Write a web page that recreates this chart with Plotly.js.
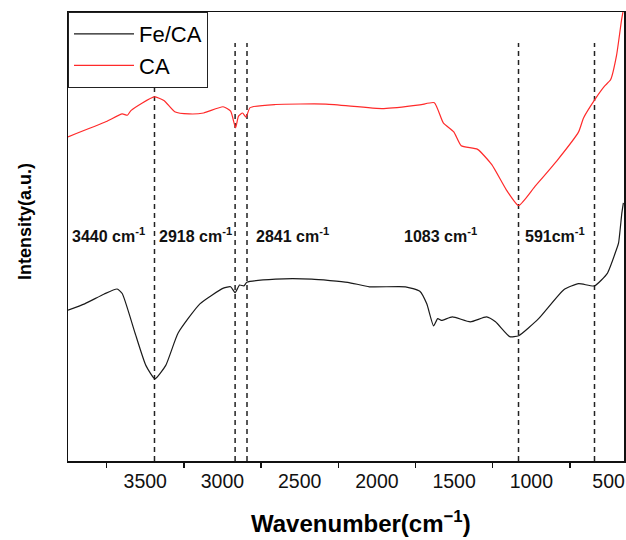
<!DOCTYPE html>
<html>
<head>
<meta charset="utf-8">
<script src="https://cdn.plot.ly/plotly-3.0.1.min.js"></script>
<style>
html,body{margin:0;padding:0;background:#fff;}
#chart{width:626px;height:540px;}
</style>
</head>
<body>
<div id="chart"></div>
<script>
// Fe/CA spectrum (black)
const feWavenumber = [4000,3892,3765,3682,3649,3566,3496,3437,3367,3287,3146,2994,2947,2918,2889,2861,2842,2656,2422,2189,2048,1815,1722,1677,1633,1606,1582,1512,1395,1290,1232,1140,1082,953,788,694,591,508,450,435,414,404];
const feIntensity  = [33.6,35.0,37.2,38.3,37.3,28.5,21.3,18.3,21.3,28.5,35.0,38.5,38.8,37.5,39.2,39.0,39.8,40.5,40.5,39.8,38.8,38.8,37.8,35.0,30.1,31.7,31.3,32.1,31.0,32.1,31.0,27.7,27.9,31.7,38.2,39.5,39.0,41.8,47.0,48.6,55.2,57.5];

// CA spectrum (red)
const caWavenumber = [4000,3752,3649,3616,3591,3442,3379,3309,3216,3122,2996,2947,2915,2896,2870,2847,2821,2656,2330,1955,1722,1628,1570,1502,1454,1348,1256,1162,1082,975,836,694,662,587,526,487,448,416,404];
const caIntensity  = [72.2,75.6,77.3,77.0,78.1,81.1,80.3,77.8,77.3,77.5,78.9,77.9,74.2,76.8,77.5,76.6,78.7,79.4,79.5,78.5,79.3,79.8,75.3,73.3,70.2,69.4,66.0,60.4,56.9,61.2,66.8,73.3,76.4,80.6,83.5,84.9,90.4,98.2,100.5];

// Marked bands
const peaks = [3440, 2918, 2841, 1083, 591];
const peakLabels = ['3440 cm<sup>-1</sup>', '2918 cm<sup>-1</sup>', '2841 cm<sup>-1</sup>', '1083 cm<sup>-1</sup>', '591cm<sup>-1</sup>'];
const labelStart = [3986, 3426, 2795, 1839, 1057];

const xTickVals = [3500, 3000, 2500, 2000, 1500, 1000, 500];
const xTickText = ['3500', '3000', '2500', '2000', '1500', '1000', '500'];

const FONT = 'Liberation Sans, Arial, sans-serif';

const traces = [
  {x: feWavenumber, y: feIntensity, type: 'scatter', mode: 'lines', name: 'Fe/CA',
   line: {color: '#1a1a1a', width: 1.2, shape: 'spline', smoothing: 0.5}},
  {x: caWavenumber, y: caIntensity, type: 'scatter', mode: 'lines', name: 'CA',
   line: {color: '#ff2a2a', width: 1.2, shape: 'spline', smoothing: 0.5}}
];

const shapes = peaks.map(p => ({
  type: 'line', xref: 'x', yref: 'paper', x0: p, x1: p, y0: 0, y1: 0.931,
  line: {color: '#222', width: 1.5, dash: '5px,4px'}, layer: 'below'
}));

const annotations = peaks.map((p, i) => ({
  x: labelStart[i], y: 0.503, xref: 'x', yref: 'paper',
  xanchor: 'left', yanchor: 'middle', showarrow: false,
  text: '<b>' + peakLabels[i] + '</b>',
  font: {family: FONT, size: 16, color: '#111'}
}));

const L = 68, R = 2, T = 12, B = 79, W = 626, H = 540;
const pw = W - L - R, ph = H - T - B;

annotations.push({
  x: (361 - L) / pw, y: (H - B - 522) / ph, xref: 'paper', yref: 'paper',
  xanchor: 'center', yanchor: 'middle', showarrow: false,
  text: '<b>Wavenumber(cm<sup>\u22121</sup>)</b>',
  font: {family: FONT, size: 24, color: '#000'}
});
annotations.push({
  x: (25 - L) / pw, y: (H - B - 222) / ph, xref: 'paper', yref: 'paper',
  xanchor: 'center', yanchor: 'middle', showarrow: false, textangle: -90,
  text: '<b>Intensity(a.u.)</b>',
  font: {family: FONT, size: 18, color: '#000'}
});

const layout = {
  width: W, height: H,
  margin: {l: L, r: R, t: T, b: B, pad: 0},
  paper_bgcolor: '#fff', plot_bgcolor: '#fff',
  showlegend: true,
  legend: {
    x: 0, y: 1, xanchor: 'left', yanchor: 'top',
    bgcolor: '#fff', bordercolor: '#222', borderwidth: 1,
    font: {family: FONT, size: 22, color: '#000'},
    itemwidth: 60, tracegroupgap: 0
  },
  xaxis: {
    range: [4000, 400], autorange: false,
    showgrid: false, zeroline: false,
    showline: true, linecolor: '#111', linewidth: 1.5, mirror: true,
    tickmode: 'array', tickvals: xTickVals, ticktext: xTickText,
    ticks: '', ticklabelstandoff: 2,
    tickfont: {family: FONT, size: 19.5, color: '#111'},
    minor: {tickmode: 'linear', tick0: 3750, dtick: 500, ticks: 'outside', ticklen: 5, tickwidth: 1.5, tickcolor: '#111', showgrid: false}
  },
  yaxis: {
    range: [0, 100], autorange: false,
    showgrid: false, zeroline: false,
    showline: true, linecolor: '#111', linewidth: 1.5, mirror: true,
    ticks: '', showticklabels: false
  },
  shapes: shapes,
  annotations: annotations
};

Plotly.newPlot('chart', traces, layout, {displayModeBar: false, staticPlot: true});
</script>
</body>
</html>
